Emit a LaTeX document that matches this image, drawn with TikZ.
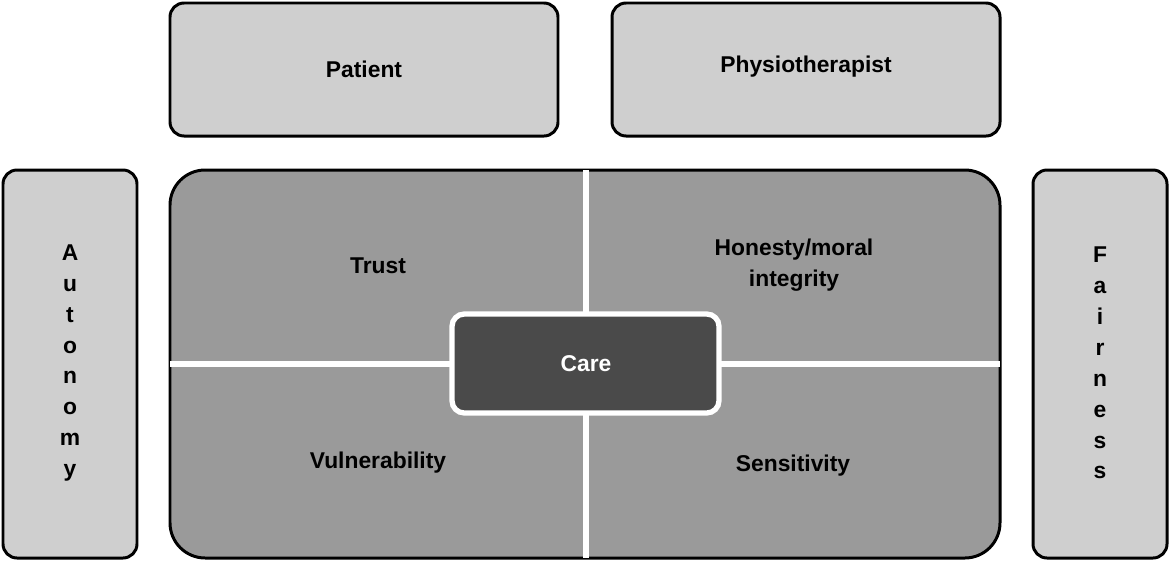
\documentclass[tikz,border=0pt]{standalone}
\usepackage{fontspec}
\setmainfont{Liberation Sans}
\begin{document}
\begin{tikzpicture}[x=0.02cm,y=-0.02cm,
  lbox/.style={draw=black,line width=1.7pt,fill=lightbox,rounded corners=8pt},
  lab/.style={font=\bfseries\fontsize{13}{17.6}\selectfont,align=center,text=black}]
\definecolor{lightbox}{HTML}{CFCFCF}
\definecolor{midbox}{HTML}{9A9A9A}
\definecolor{darkbox}{HTML}{4A4A4A}
\useasboundingbox (0,0) rectangle (1170,562);
\draw[lbox] (170,3) rectangle (558,136);
\node[lab] (patient) at (364,69) {Patient};
\draw[lbox] (612,3) rectangle (1000,136);
\node[lab] (physio) at (806,67) {Physiotherapist};
\draw[lbox] (3,170) rectangle (137,558);
\node[lab] (auto) at (70,363) {A\\u\\t\\o\\n\\o\\m\\y};
\draw[lbox] (1033,170) rectangle (1167,558);
\node[lab] (fair) at (1100,363) {F\\a\\i\\r\\n\\e\\s\\s};
\draw[line width=1.7pt,fill=midbox,rounded corners=20pt] (170,170) rectangle (1000,558);
\draw[white,line width=3pt] (586,170) -- (586,558);
\draw[white,line width=3pt] (170,364) -- (1000,364);
\node[lab] (trust) at (378,266) {Trust};
\node[lab] (honest) at (794,265) {Honesty/moral\\integrity};
\node[lab] (vuln) at (378,463) {Vulnerability};
\node[lab] (sens) at (793,466) {Sensitivity};
\draw[white,line width=3pt,fill=darkbox,rounded corners=7pt] (452,314) rectangle (719,413);
\node[lab,text=white] (care) at (586,364) {Care};
\end{tikzpicture}
\end{document}
